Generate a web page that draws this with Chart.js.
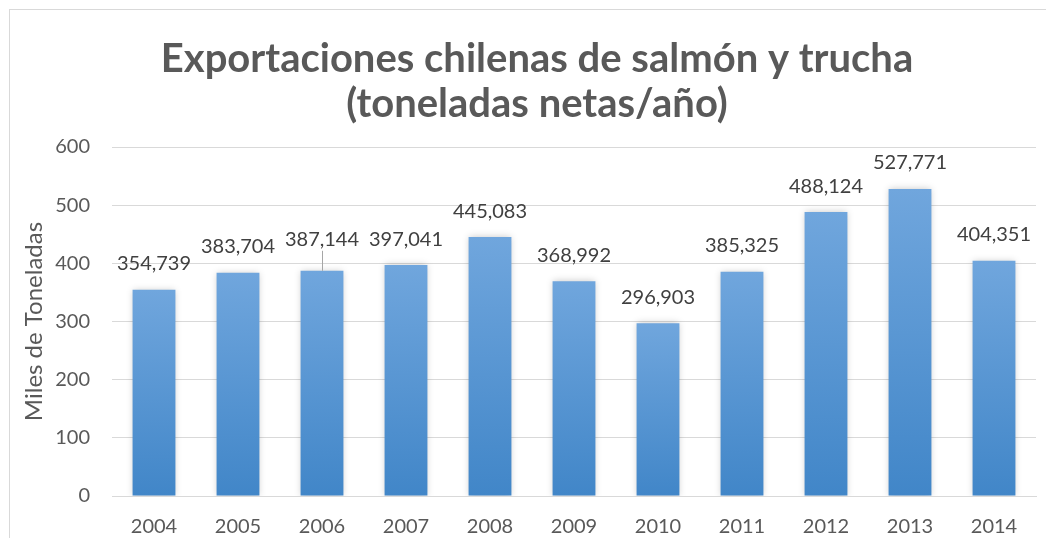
<!DOCTYPE html>
<html>
<head>
<meta charset="utf-8">
<script src="https://cdn.jsdelivr.net/npm/chart.js@4"></script>
<style>
  html, body { margin: 0; padding: 0; background: #fff; }
  #wrap { width: 1046px; height: 538px; position: relative; }
</style>
</head>
<body>
<div id="wrap"><canvas id="grafica"></canvas></div>
<script>
// Datos (miles de toneladas)
const anios = ['2004', '2005', '2006', '2007', '2008', '2009', '2010', '2011', '2012', '2013', '2014'];
const toneladas = [354.739, 383.704, 387.144, 397.041, 445.083, 368.992, 296.903, 385.325, 488.124, 527.771, 404.351];
const ticksY = [0, 100, 200, 300, 400, 500, 600];

const GRIS = '#595959';
const TEXTO = '#404040';
const FUENTE = 'Lato, "Open Sans", sans-serif';

// Degradado por barra: más claro arriba, más oscuro abajo
function degradado(ctx) {
    const chart = ctx.chart;
    if (!chart.chartArea || ctx.parsed === undefined) return '#5a96d4';
    const y = chart.scales.y;
    const top = y.getPixelForValue(ctx.parsed.y);
    const bottom = y.getPixelForValue(0);
    const g = chart.ctx.createLinearGradient(0, top, 0, bottom);
    g.addColorStop(0, '#70a6dd');
    g.addColorStop(1, '#4186c8');
    return g;
}

// Marco del área de la gráfica
const marco = {
    id: 'marco',
    beforeDraw(chart) {
        const c = chart.ctx;
        c.save();
        c.strokeStyle = '#d9d9d9';
        c.lineWidth = 1;
        c.strokeRect(9.5, 9.5, 1100, 600);
        c.restore();
    }
};

// Sombra suave en las barras
const sombra = {
    id: 'sombra',
    beforeDatasetsDraw(chart) {
        const c = chart.ctx;
        c.save();
        c.shadowColor = 'rgba(0,0,0,0.22)';
        c.shadowBlur = 7;
    },
    afterDatasetsDraw(chart) {
        chart.ctx.restore();
    }
};

// Etiquetas de datos encima de cada barra
const etiquetas = {
    id: 'etiquetas',
    afterDatasetsDraw(chart) {
        const c = chart.ctx;
        const meta = chart.getDatasetMeta(0);
        c.save();
        c.font = '20px ' + FUENTE;
        c.fillStyle = TEXTO;
        c.textAlign = 'center';
        c.textBaseline = 'middle';
        meta.data.forEach((bar, i) => {
            const texto = Math.round(toneladas[i] * 1000).toLocaleString('en-US');
            let y = bar.y - 26;
            if (i === 2) {
                // etiqueta desplazada con línea guía (como en el original)
                y -= 5;
                c.strokeStyle = '#a6a6a6';
                c.lineWidth = 1;
                c.beginPath();
                c.moveTo(Math.round(bar.x) + 0.5, y + 11);
                c.lineTo(Math.round(bar.x) + 0.5, bar.y);
                c.stroke();
            }
            c.fillText(texto, bar.x, y);
        });
        c.restore();
    }
};

new Chart(document.getElementById('grafica'), {
    type: 'bar',
    data: {
        labels: anios,
        datasets: [{
            label: 'Exportaciones',
            data: toneladas,
            backgroundColor: degradado,
            borderWidth: 0,
            barPercentage: 0.51,
            categoryPercentage: 1.0,
        }]
    },
    options: {
        responsive: true,
        maintainAspectRatio: false,
        animation: false,
        layout: { padding: { top: 0, left: 38, right: 10, bottom: 0 } },
        plugins: {
            legend: { display: false },
            tooltip: { enabled: false },
            title: {
                display: true,
                text: ['Exportaciones chilenas de salmón y trucha', '(toneladas netas/año)'],
                color: GRIS,
                font: { family: FUENTE, size: 40, weight: 'bold', lineHeight: 1.125 },
                padding: { top: 37, bottom: 20 }
            }
        },
        scales: {
            x: {
                grid: { display: false, drawTicks: false },
                border: { color: '#d9d9d9', width: 1 },
                ticks: { color: GRIS, font: { family: FUENTE, size: 20 }, padding: 19 },
                afterFit: s => { s.height = 42; }
            },
            y: {
                min: 0,
                max: 600,
                afterBuildTicks: s => { s.ticks = ticksY.map(v => ({ value: v })); },
                grid: { color: '#d9d9d9', drawTicks: false },
                border: { display: false },
                ticks: { color: GRIS, font: { family: FUENTE, size: 20 }, padding: 22 },
                title: {
                    display: true,
                    text: 'Miles de Toneladas',
                    color: GRIS,
                    font: { family: FUENTE, size: 24 },
                    padding: { top: -18, bottom: 0 }
                },
                afterFit: s => { s.width = 74; }
            }
        }
    },
    plugins: [marco, sombra, etiquetas]
});
</script>
</body>
</html>
